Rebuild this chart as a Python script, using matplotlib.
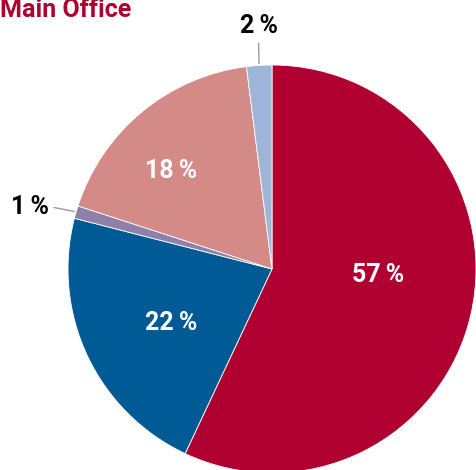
import numpy as np
import matplotlib
matplotlib.use("Agg")
import matplotlib.pyplot as plt

categories = ["A", "B", "C", "D", "E"]
values = [57, 22, 1, 18, 2]
labels = ["57\u2009%", "22\u2009%", "1\u2009%", "18\u2009%", "2\u2009%"]
colors = ["#AF0031", "#005A96", "#8E80A8", "#D48A87", "#9FB5D8"]
title = "Main Office"

fam = ["Roboto", "DejaVu Sans"]

fig = plt.figure(figsize=(4.76, 4.70), dpi=100)
ax = fig.add_axes([0, 0, 1, 1])

cx, cy, r = 272, 201, 204
wedges, _ = ax.pie(values, colors=colors, startangle=90, counterclock=False,
                   center=(cx, cy), radius=r, frame=True,
                   wedgeprops=dict(linewidth=0.6, edgecolor="white"))
ax.set_xlim(0, 476)
ax.set_ylim(0, 470)
ax.set_aspect("equal")
ax.axis("off")

# inside label placement (radial fraction, angle offset in deg)
inside = {0: (0.52, 9.5), 1: (0.56, 3.0), 3: (0.69, 6.0)}
for i, w in enumerate(wedges):
    mid = np.deg2rad((w.theta1 + w.theta2) / 2)
    if i in inside:
        f, off = inside[i]
        a = mid + np.deg2rad(off)
        ax.text(cx + f * r * np.cos(a), cy + f * r * np.sin(a), labels[i],
                ha="center", va="center", color="white", fontsize=18,
                fontweight="bold", family=fam)

# outside labels with leader lines
for i in (2, 4):
    w = wedges[i]
    mid = np.deg2rad((w.theta1 + w.theta2) / 2)
    x0, y0 = cx + 1.01 * r * np.cos(mid), cy + 1.01 * r * np.sin(mid)
    if i == 2:
        x1, y1 = x0 - 20, y0 + 4
        ax.plot([x0, x1], [y0, y1], color="#999999", lw=1)
        ax.text(x1 - 5, y1 + 1, labels[i], ha="right", va="center",
                color="black", fontsize=18, fontweight="bold", family=fam)
    else:
        x1, y1 = x0, y0 + 20
        ax.plot([x0, x1 - 0.5], [y0, y1], color="#999999", lw=1)
        ax.text(x1, y1 + 5, labels[i], ha="center", va="bottom",
                color="black", fontsize=18, fontweight="bold", family=fam)

fig.text(0.0, 1.0 - 17 / 470, title, ha="left", va="baseline", color="#AF0031",
         fontsize=18, fontweight="bold", family=fam)

fig.savefig("out.png", dpi=100)
